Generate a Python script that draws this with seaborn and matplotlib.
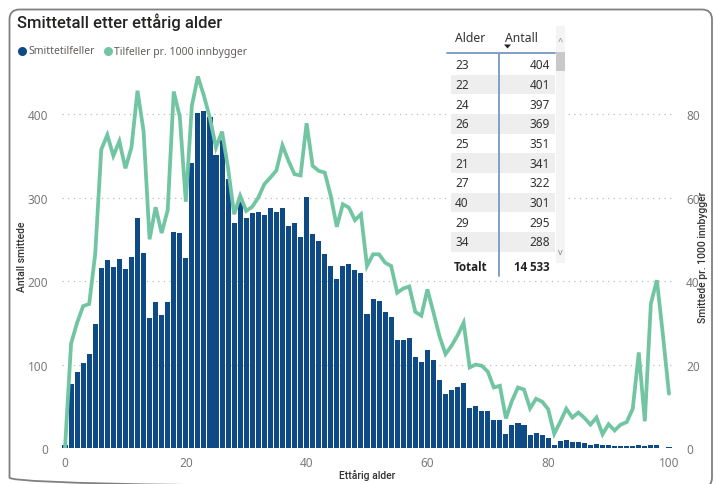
import matplotlib
matplotlib.use("Agg")
import matplotlib.pyplot as plt
import numpy as np
import pandas as pd
import seaborn as sns
from matplotlib.patches import FancyBboxPatch, Rectangle, Polygon

# ---------------- data ----------------
ages = list(range(0, 101))
cases = [3, 77, 91, 102, 113, 149, 216, 225, 217, 226,
         214, 229, 275, 233, 156, 175, 159, 175, 259, 257,
         228, 341, 401, 404, 397, 351, 369, 322, 270, 295,
         275, 281, 283, 279, 288, 283, 287, 266, 269, 253,
         301, 256, 248, 232, 218, 203, 218, 221, 213, 210,
         161, 178, 176, 163, 157, 129, 129, 132, 109, 103,
         117, 106, 82, 65, 69, 73, 78, 48, 50, 44,
         44, 34, 34, 17, 27, 30, 27, 16, 18, 15,
         12, 4, 8, 10, 7, 7, 6, 4, 5, 3,
         3, 2, 2, 2, 2, 4, 2, 3, 3, 0,
         1]
rates = [0, 25, 30, 34, 34.5, 46.5, 71.5, 75, 70, 73.5,
         67, 72, 85.6, 76, 50, 57.7, 51.5, 57, 85.4, 79.4,
         59, 82, 89, 84.4, 79, 72, 75.8, 67, 56, 60.4,
         56.8, 57.8, 60, 63.2, 64.8, 66.5, 72.5, 68.8, 65.6, 65.3,
         77.8, 67.6, 66.4, 66, 60.4, 53, 58.4, 57.6, 54.6, 56,
         43.6, 46.4, 46.4, 44.4, 43.6, 37.2, 38.2, 38.7, 32.6, 31.7,
         38, 32.5, 26.8, 22.5, 24.5, 27, 30, 19.3, 20, 19.7,
         18.3, 14.5, 14.9, 7.1, 11.3, 14.5, 14, 9.5, 11.8, 11.1,
         9.3, 3.4, 6.3, 9.4, 7.3, 8.5, 7.2, 5.6, 7.3, 3.3,
         5.7, 4.2, 5.6, 6.2, 9.4, 22.9, 6.4, 34.6, 40.2, 27,
         13]
x_ticks = [0, 20, 40, 60, 80, 100]
left_ticks = [0, 100, 200, 300, 400]
right_ticks = [0, 20, 40, 60, 80]

table_alder = [23, 22, 24, 26, 25, 21, 27, 40, 29, 34]
table_antall = [404, 401, 397, 369, 351, 341, 322, 301, 295, 288]
total_label = "14 533"

title = "Smittetall etter ettårig alder"
legend_labels = ["Smittetilfeller", "Tilfeller pr. 1000 innbygger"]
xlabel = "Ettårig alder"
ylabel_left = "Antall smittede"
ylabel_right = "Smittede pr. 1000 innbygger"

BLUE = "#0E4A86"
GREEN = "#72C5A3"
TICK = "#7a7a7a"
DARK = "#333333"
HEAD = ["Roboto", "DejaVu Sans"]
BOLD = ["Open Sans", "DejaVu Sans"]

# ---------------- style ----------------
sns.set_theme(style="white")
plt.rcParams['font.family'] = ['Noto Sans', 'DejaVu Sans']

W, H = 715, 485
fig = plt.figure(figsize=(W / 100, H / 100), dpi=100)
fig.patch.set_facecolor("white")


def px(x0, y0, x1, y1):
    return [x0 / W, 1 - y1 / H, (x1 - x0) / W, (y1 - y0) / H]


df = pd.DataFrame({"age": ages, "cases": cases, "rate": rates})

ax = fig.add_axes(px(62, 65, 672, 449))
sns.barplot(data=df, x="age", y="cases", native_scale=True, color=BLUE,
            saturation=1, width=0.84, errorbar=None, linewidth=0, ax=ax, zorder=2)
ax.set_xlim(-0.5, 100.5)
ax.set_ylim(0, 460)
ax.set_xticks(x_ticks)
ax.set_xticklabels([str(t) for t in x_ticks])
ax.set_yticks(left_ticks)
ax.set_yticklabels([str(t) for t in left_ticks])
ax.set_axisbelow(True)
ax.yaxis.grid(True, linestyle=(0, (1, 3.5)), color="#bdbdbd", lw=0.9)
ax.xaxis.grid(False)
for s in ax.spines.values():
    s.set_visible(False)
ax.tick_params(axis="both", length=0, labelsize=8.5, labelcolor=TICK)
ax.tick_params(axis="y", pad=10)
ax.tick_params(axis="x", pad=6)
ax.set_xlabel(xlabel, fontsize=7.5, color=DARK, fontweight="medium", family=HEAD)
ax.xaxis.set_label_coords(0.5, -0.070)
ax.xaxis.label.set_va("center")
ax.set_ylabel(ylabel_left, fontsize=7.5, color=DARK, fontweight="medium", family=HEAD)
ax.yaxis.set_label_coords(-0.066, 0.5)
ax.yaxis.label.set_va("center")

ax2 = ax.twinx()
sns.lineplot(data=df, x="age", y="rate", color=GREEN, lw=2.7, ax=ax2,
             solid_joinstyle="miter", zorder=3)
ax2.set_ylim(0, 92)
ax2.set_yticks(right_ticks)
ax2.set_yticklabels([str(t) for t in right_ticks])
for s in ax2.spines.values():
    s.set_visible(False)
ax2.tick_params(axis="y", length=0, labelsize=8.5, labelcolor=TICK, pad=10)
ax2.set_ylabel(ylabel_right, fontsize=7.5, color=DARK, fontweight="medium", family=HEAD)
ax2.yaxis.set_label_coords(1.0508, 0.5)
ax2.yaxis.label.set_va("center")
ax2.grid(False)

# ---------------- overlay: frame, title, legend, table ----------------
ov = fig.add_axes([0, 0, 1, 1], zorder=10)
ov.set_xlim(0, W)
ov.set_ylim(H, 0)
ov.axis("off")

ov.add_patch(FancyBboxPatch((9.5, 10.5), 702.5, 478, boxstyle="round,pad=0,rounding_size=10",
                            fc="none", ec="#808080", lw=1.3))
ov.text(17, 22, title, fontsize=12, color="#252423", va="center", ha="left",
        family=HEAD, fontweight="medium")

ov.plot([21.5], [52], "o", ms=6.5, color=BLUE, mec="none")
ov.text(28, 52, legend_labels[0], fontsize=7.5, color="#605E5C", va="center")
ov.plot([108], [52], "o", ms=6.5, color=GREEN, mec="none")
ov.text(114, 52, legend_labels[1], fontsize=7.5, color="#605E5C", va="center")

# table
tx0, tx1 = 447, 567
ov.add_patch(Rectangle((tx0, 25), tx1 - tx0, 253, fc="white", ec="none"))
ov.add_patch(Rectangle((556, 27), 9, 237, fc="#f4f4f4", ec="none"))
ov.add_patch(Rectangle((556, 53), 9, 19, fc="#c8c8c8", ec="none"))
ov.text(560.5, 41, "^", fontsize=6.5, color="#8a8a8a", ha="center", va="center")
ov.text(560.5, 253, "v", fontsize=6.5, color="#8a8a8a", ha="center", va="center")

row_h = 19.7
row0 = 65.7
for i, (a, n) in enumerate(zip(table_alder, table_antall)):
    yc = row0 + i * row_h
    if i % 2 == 1:
        ov.add_patch(Rectangle((451, yc - row_h / 2), 104, row_h, fc="#eeeeee", ec="none"))
    ov.text(455, yc, str(a), fontsize=8.5, color=DARK, va="center", ha="left")
    ov.text(550, yc, str(n), fontsize=8.5, color=DARK, va="center", ha="right")

ov.text(455, 38, "Alder", fontsize=8.8, color=DARK, va="center", ha="left")
ov.text(505, 38, "Antall", fontsize=8.8, color=DARK, va="center", ha="left")
ov.add_patch(Polygon([[504, 45.5], [511, 45.5], [507.5, 49.5]], closed=True, fc="#222222", ec="none"))
ov.plot([447, 555], [53.5, 53.5], color="#7f9fc6", lw=1.4)
ov.plot([499, 499], [53.5, 277], color="#7f9fc6", lw=1.4)
ov.text(454, 268, "Totalt", fontsize=8.3, color="#222222", va="center", ha="left",
        fontweight="bold", family=BOLD)
ov.text(550, 268, total_label, fontsize=8.3, color="#222222", va="center", ha="right",
        fontweight="bold", family=BOLD)

fig.savefig("out.png", dpi=100, facecolor="white")
